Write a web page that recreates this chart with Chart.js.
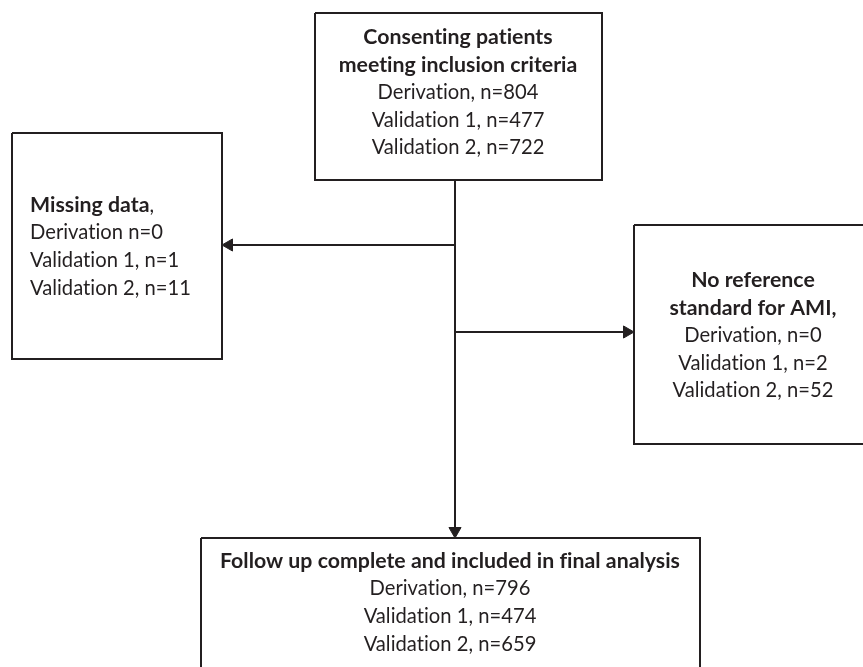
<!DOCTYPE html>
<html>
<head>
<meta charset="utf-8">
<script src="https://cdn.jsdelivr.net/npm/chart.js@4.4.1/dist/chart.umd.min.js"></script>
<style>
  html, body { margin: 0; padding: 0; background: #ffffff; }
  #wrap { width: 863px; height: 667px; }
</style>
</head>
<body>
<div id="wrap"><canvas id="flowChart" width="863" height="667"></canvas></div>
<script>
// ========================================================================
// 데이터 (cohort counts)
// ========================================================================
const cohorts = ['Derivation', 'Validation 1', 'Validation 2'];
const enrolledCounts = [804, 477, 722];
const missingCounts = [0, 1, 11];
const noReferenceCounts = [0, 2, 52];
const includedCounts = [796, 474, 659];

const enrolledTitle = ['Consenting patients', 'meeting inclusion criteria'];
const missingTitle = ['Missing data'];
const noReferenceTitle = ['No reference', 'standard for AMI,'];
const includedTitle = ['Follow up complete and included in final analysis'];

// ========================================================================
// 레이아웃 (chart units == pixels, y axis reversed)
// ========================================================================
const INK = '#231f20';
const FONT = 'Lato, "Liberation Sans", sans-serif';
const BOLD_SIZE = 21.3;
const REG_SIZE = 20.2;
const LINE_GAP = 27.7;
const ARROW_R = 7;

const boxes = {
    enrolled:    { x0: 315, x1: 602, y0: 13,  y1: 180, align: 'center', tx: 458, ty: 37 },
    missing:     { x0: 12,  x1: 222, y0: 133, y1: 359, align: 'left',   tx: 30,  ty: 205 },
    noReference: { x0: 634, x1: 875, y0: 225, y1: 444, align: 'center', tx: 753, ty: 280 },
    included:    { x0: 201, x1: 700, y0: 538, y1: 690, align: 'center', tx: 450, ty: 561 }
};

const trunkX = 455;
const arrows = [
    { from: [trunkX, 245], to: [222, 245] },   // -> missing data
    { from: [trunkX, 332], to: [634, 332] },   // -> no reference
    { from: [trunkX, 180], to: [trunkX, 538] } // -> final analysis
];

// ========================================================================
// 텍스트 구성
// ========================================================================
function countLines(counts) {
    return cohorts.map((c, i) => c + ', n=' + counts[i]);
}

// each line: array of [text, bold]
const boxTexts = {
    enrolled: enrolledTitle.map(t => [[t, true]])
        .concat(countLines(enrolledCounts).map(t => [[t, false]])),
    missing: [[[missingTitle[0], true], [',', false]]]
        .concat(cohorts.map((c, i) => [[c + (i === 0 ? ' ' : ', ') + 'n=' + missingCounts[i], false]])),
    noReference: noReferenceTitle.map(t => [[t, true]])
        .concat(countLines(noReferenceCounts).map(t => [[t, false]])),
    included: includedTitle.map(t => [[t, true]])
        .concat(countLines(includedCounts).map(t => [[t, false]]))
};

// ========================================================================
// 데이터셋 만들기
// ========================================================================
function boxDataset(b) {
    return {
        data: [
            { x: b.x0, y: b.y0 }, { x: b.x1, y: b.y0 },
            { x: b.x1, y: b.y1 }, { x: b.x0, y: b.y1 }, { x: b.x0, y: b.y0 }
        ],
        showLine: true,
        borderColor: INK,
        borderWidth: 2,
        pointRadius: 0,
        tension: 0
    };
}

function arrowDataset(a) {
    const dx = Math.sign(a.to[0] - a.from[0]);
    const dy = Math.sign(a.to[1] - a.from[1]);
    return {
        data: [
            { x: a.from[0], y: a.from[1] },
            { x: a.to[0] - dx * ARROW_R, y: a.to[1] - dy * ARROW_R }
        ],
        showLine: true,
        borderColor: INK,
        borderWidth: 2,
        pointRadius: 0
    };
}

function arrowHeads() {
    return {
        data: arrows.map(a => {
            const dx = Math.sign(a.to[0] - a.from[0]);
            const dy = Math.sign(a.to[1] - a.from[1]);
            return { x: a.to[0] - dx * ARROW_R, y: a.to[1] - dy * ARROW_R };
        }),
        showLine: false,
        pointStyle: 'triangle',
        pointRadius: ARROW_R,
        pointRotation: arrows.map(a => {
            const dx = a.to[0] - a.from[0];
            const dy = a.to[1] - a.from[1];
            if (dx > 0) return 90;
            if (dx < 0) return 270;
            return dy > 0 ? 180 : 0;
        }),
        backgroundColor: INK,
        borderColor: INK,
        borderWidth: 1
    };
}

// ========================================================================
// 텍스트 플러그인
// ========================================================================
const boxTextPlugin = {
    id: 'boxText',
    afterDatasetsDraw(chart) {
        const ctx = chart.ctx;
        const xs = chart.scales.x;
        const ys = chart.scales.y;
        ctx.save();
        ctx.fillStyle = INK;
        ctx.textBaseline = 'middle';
        ctx.letterSpacing = '0.01px';  // 합자(ti) 방지
        const setFont = bold => {
            ctx.font = bold ? ('bold ' + BOLD_SIZE + 'px ' + FONT) : (REG_SIZE + 'px ' + FONT);
        };
        Object.keys(boxes).forEach(key => {
            const b = boxes[key];
            boxTexts[key].forEach((line, li) => {
                const py = ys.getPixelForValue(b.ty + li * LINE_GAP);
                const widths = line.map(([t, bold]) => {
                    setFont(bold);
                    return ctx.measureText(t).width;
                });
                const total = widths.reduce((a, w) => a + w, 0);
                let px = xs.getPixelForValue(b.tx);
                if (b.align === 'center') px -= total / 2;
                ctx.textAlign = 'left';
                line.forEach(([t, bold], si) => {
                    setFont(bold);
                    ctx.fillText(t, px, py);
                    px += widths[si];
                });
            });
        });
        ctx.restore();
    }
};

// ========================================================================
// 차트 생성
// ========================================================================
const datasets = Object.keys(boxes).map(k => boxDataset(boxes[k]))
    .concat(arrows.map(arrowDataset))
    .concat([arrowHeads()]);

new Chart(document.getElementById('flowChart'), {
    type: 'scatter',
    data: { datasets: datasets },
    options: {
        responsive: false,
        devicePixelRatio: 1,
        animation: false,
        layout: { padding: 0, autoPadding: false },
        plugins: {
            legend: { display: false },
            tooltip: { enabled: false }
        },
        scales: {
            x: { type: 'linear', min: 0, max: 863, display: false },
            y: { type: 'linear', min: 0, max: 667, reverse: true, display: false }
        }
    },
    plugins: [boxTextPlugin]
});
</script>
</body>
</html>
